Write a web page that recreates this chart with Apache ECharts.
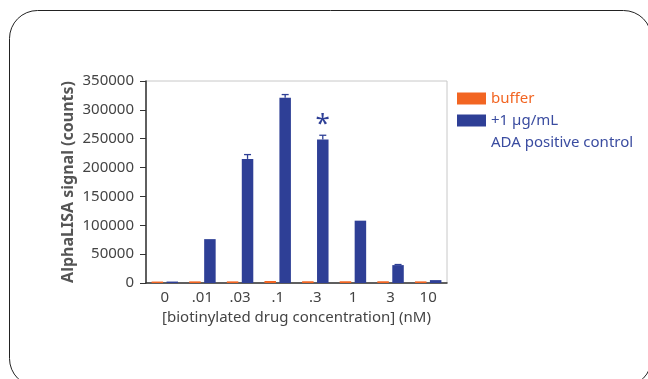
<!DOCTYPE html>
<html>
<head>
<meta charset="utf-8">
<script src="https://cdn.jsdelivr.net/npm/echarts@6/dist/echarts.min.js"></script>
<style>html,body{margin:0;padding:0;background:#fff;}#c{width:648px;height:379px;}</style>
</head>
<body>
<div id="c"></div>
<script>
const categories = ['0', '.01', '.03', '.1', '.3', '1', '3', '10'];
const bufferValues = [2500, 2800, 2800, 3500, 3000, 3000, 3000, 2800];
const adaValues = [2500, 76000, 215000, 321000, 248500, 108000, 31000, 5000];
const adaErrorTop = [null, null, 222500, 326500, 256000, null, 32000, null];
const annotations = ['', '', '', '', '*', '', '', ''];
const yTicks = [0, 50000, 100000, 150000, 200000, 250000, 300000, 350000];

const ORANGE = '#f26522';
const BLUE = '#2e3f96';
const FONT = 'Noto Sans';
const BAR_W = 11.5;
const BAR_GAP = 0.3;

const chart = echarts.init(document.getElementById('c'), null, {renderer: 'canvas'});
chart.setOption({
  animation: false,
  textStyle: {fontFamily: FONT},
  grid: {left: 146, right: 201, top: 81, bottom: 96, show: true, borderColor: '#c8c8c8', borderWidth: 1},
  legend: {
    orient: 'vertical', left: 452, top: 86, itemWidth: 29, itemHeight: 12, itemGap: 7,
    icon: 'rect',
    data: [
      {name: 'buffer', textStyle: {color: ORANGE}},
      {name: '+1 µg/mL', textStyle: {color: '#3a4ca0'}}
    ],
    textStyle: {fontFamily: FONT, fontSize: 15},
    selectedMode: false
  },
  graphic: [
    {type: 'rect', silent: true, shape: {x: 9.5, y: 10.5, width: 642, height: 376, r: 28},
     style: {fill: 'none', stroke: '#222', lineWidth: 1}},
    {type: 'text', left: 491, top: 135, silent: true,
     style: {text: 'ADA positive control', fill: '#3a4ca0', font: '15px "Noto Sans"'}}
  ],
  xAxis: {
    type: 'category', data: categories,
    axisLine: {lineStyle: {color: '#333', width: 1.5}},
    axisTick: {alignWithLabel: true, length: 5, lineStyle: {color: '#333'}},
    axisLabel: {color: '#444', fontSize: 15, margin: 7},
    name: '[biotinylated drug concentration] (nM)', nameLocation: 'middle', nameGap: 24,
    nameTextStyle: {color: '#444', fontSize: 15}
  },
  yAxis: {
    type: 'value', min: yTicks[0], max: yTicks[yTicks.length - 1], interval: yTicks[1] - yTicks[0],
    axisLine: {show: true, lineStyle: {color: '#333', width: 1.5}},
    axisTick: {show: true, length: 6, lineStyle: {color: '#333'}},
    axisLabel: {color: '#444', fontSize: 15, margin: 12, formatter: v => String(v)},
    splitLine: {show: false},
    name: 'AlphaLISA signal (counts)', nameLocation: 'middle', nameGap: 70,
    nameTextStyle: {color: '#555', fontSize: 16, fontWeight: 'bold'}
  },
  series: [
    {name: 'buffer', type: 'bar', data: bufferValues, barWidth: BAR_W, barGap: (BAR_GAP * 100) + '%',
     itemStyle: {color: ORANGE}},
    {name: '+1 µg/mL', type: 'bar', data: adaValues.map((v, i) => ({
        value: v,
        label: annotations[i] ? {show: true, formatter: annotations[i], position: 'top', distance: 2,
          color: BLUE, fontSize: 26, fontFamily: FONT} : {show: false}
      })), barWidth: BAR_W,
     itemStyle: {color: BLUE}},
    {name: 'err', type: 'custom', z: 3,
     data: adaErrorTop.map((v, i) => [i, adaValues[i], v]),
     renderItem: function (params, api) {
       const top = api.value(2);
       if (top === null || top === undefined || isNaN(top)) return null;
       const off = BAR_W * (1 + BAR_GAP) / 2;
       const p0 = api.coord([api.value(0), api.value(1)]);
       const p1 = api.coord([api.value(0), top]);
       const x = p0[0] + off;
       const cap = 3.5;
       const st = {stroke: BLUE, lineWidth: 1.3};
       return {type: 'group', children: [
         {type: 'line', shape: {x1: x, y1: p0[1], x2: x, y2: p1[1]}, style: st},
         {type: 'line', shape: {x1: x - cap, y1: p1[1], x2: x + cap, y2: p1[1]}, style: st}
       ]};
     }}
  ]
});
</script>
</body>
</html>
